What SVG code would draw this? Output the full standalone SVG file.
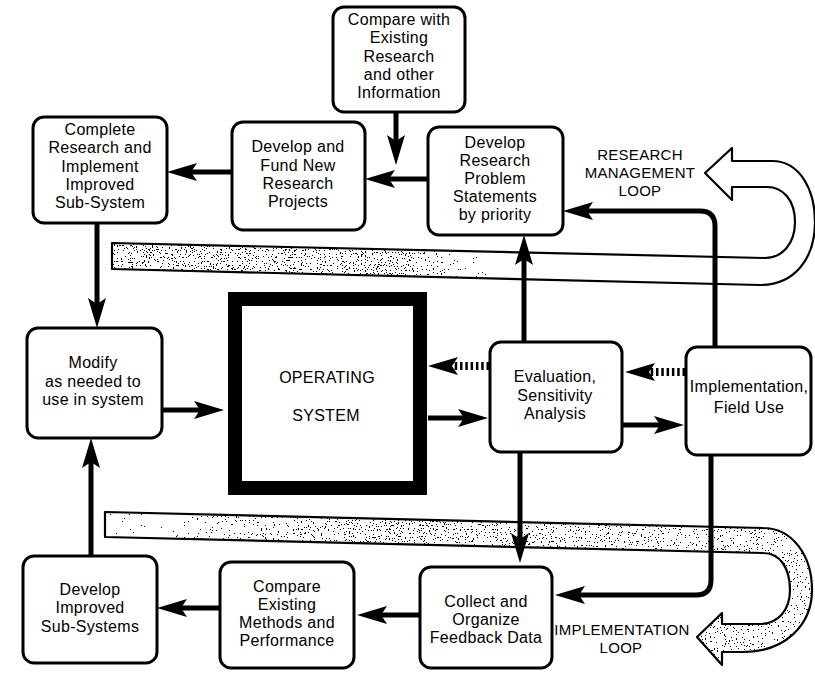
<svg xmlns="http://www.w3.org/2000/svg" width="815" height="673" viewBox="0 0 815 673">
  <style>
    .box{fill:#fff;stroke:#000;stroke-width:3}
    .t{font-family:"Liberation Sans",Arial,sans-serif;font-size:16px;letter-spacing:0.3px;text-anchor:middle;fill:#000}
    .cap{font-size:15px}
    .os{font-size:16px}
    .c{fill:none;stroke:#000;stroke-width:5;marker-end:url(#head)}
    .dash{stroke-width:8;stroke-dasharray:2.5 2.8}
    .band{fill:#fff;stroke:#000;stroke-width:2.2;stroke-linejoin:round}
  </style>
  <defs>
    <marker id="head" markerUnits="userSpaceOnUse" viewBox="0 0 30 18" markerWidth="30" markerHeight="18" refX="8" refY="9" orient="auto">
      <path d="M0,0 L30,9 L0,18 L6,9 Z" fill="#000"/>
    </marker>
    <!-- stipple density for the two loop bands -->
    <linearGradient id="denseTop" gradientUnits="userSpaceOnUse" x1="112" y1="0" x2="815" y2="0">
      <stop offset="0" stop-color="#000" stop-opacity="1"/>
      <stop offset="0.42" stop-color="#000" stop-opacity="1"/>
      <stop offset="0.6" stop-color="#000" stop-opacity="0.8"/>
      <stop offset="1" stop-color="#000" stop-opacity="0.7"/>
    </linearGradient>
    <linearGradient id="denseBottom" gradientUnits="userSpaceOnUse" x1="105" y1="0" x2="815" y2="0">
      <stop offset="0" stop-color="#000" stop-opacity="0.88"/>
      <stop offset="0.35" stop-color="#000" stop-opacity="1"/>
      <stop offset="1" stop-color="#000" stop-opacity="0.96"/>
    </linearGradient>
    <filter id="grain" x="0" y="0" width="100%" height="100%" color-interpolation-filters="sRGB">
      <feTurbulence type="fractalNoise" baseFrequency="0.75" numOctaves="2" seed="7" result="noise"/>
      <feColorMatrix in="noise" type="matrix" values="0 0 0 0 0  0 0 0 0 0  0 0 0 0 0  1 0 0 0 0" result="na"/>
      <feComposite in="na" in2="SourceGraphic" operator="arithmetic" k1="0" k2="1" k3="1" k4="-1" result="sum"/>
      <feComponentTransfer in="sum">
        <feFuncA type="discrete" tableValues="0 0 0 0 0 0 0 0 0 0 0 0 0 1 1 1 1 1 1 1"/>
      </feComponentTransfer>
    </filter>
  </defs>

  <!-- loop bands -->
  <g id="research-loop">
    <path class="band" d="M112 243 L765 258 C782 258 795 244 795 222 C795 200 783 187 767 187 L732 187 L732 200 L705 173 L732 148 L732 161 L772 161 C800 161 815 190 815 222 C815 258 795 285 760 285 L112 269 Z"/>
    <path d="M112 243 L765 258 C782 258 795 244 795 222 C795 200 783 187 767 187 L732 187 L732 200 L705 173 L732 148 L732 161 L772 161 C800 161 815 190 815 222 C815 258 795 285 760 285 L112 269 Z" fill="url(#denseTop)" filter="url(#grain)"/>
    <text class="t cap" x="640" y="160">RESEARCH</text>
    <text class="t cap" x="640" y="178">MANAGEMENT</text>
    <text class="t cap" x="640" y="196">LOOP</text>
  </g>
  <g id="implementation-loop">
    <path class="band" d="M105 512 L763 528 C792 528 812 555 812 590 C812 625 785 652 743 652 L722 652 L722 665 L697 637 L722 613 L722 624 L760 624 C778 624 790 610 790 590 C790 568 780 553 763 553 L105 537 Z"/>
    <path d="M105 512 L763 528 C792 528 812 555 812 590 C812 625 785 652 743 652 L722 652 L722 665 L697 637 L722 613 L722 624 L760 624 C778 624 790 610 790 590 C790 568 780 553 763 553 L105 537 Z" fill="url(#denseBottom)" filter="url(#grain)"/>
    <text class="t cap" x="622" y="635">IMPLEMENTATION</text>
    <text class="t cap" x="621" y="653">LOOP</text>
  </g>

  <!-- process boxes -->
  <g id="compare-research">
    <rect class="box" x="333" y="7" width="132" height="105" rx="11"/>
    <text class="t" x="399" y="25">Compare with</text>
    <text class="t" x="399" y="43">Existing</text>
    <text class="t" x="399" y="62">Research</text>
    <text class="t" x="399" y="80">and other</text>
    <text class="t" x="399" y="98">Information</text>
  </g>
  <g id="complete-research">
    <rect class="box" x="33" y="117" width="134" height="106" rx="11"/>
    <text class="t" x="100" y="135">Complete</text>
    <text class="t" x="100" y="153">Research and</text>
    <text class="t" x="100" y="172">Implement</text>
    <text class="t" x="100" y="190">Improved</text>
    <text class="t" x="100" y="208">Sub-System</text>
  </g>
  <g id="fund-projects">
    <rect class="box" x="232" y="122" width="133" height="108" rx="11"/>
    <text class="t" x="298" y="152">Develop and</text>
    <text class="t" x="298" y="171">Fund New</text>
    <text class="t" x="298" y="189">Research</text>
    <text class="t" x="298" y="207">Projects</text>
  </g>
  <g id="problem-statements">
    <rect class="box" x="428" y="127" width="135" height="108" rx="11"/>
    <text class="t" x="495" y="148">Develop</text>
    <text class="t" x="495" y="166">Research</text>
    <text class="t" x="495" y="184">Problem</text>
    <text class="t" x="495" y="202">Statements</text>
    <text class="t" x="495" y="220">by priority</text>
  </g>
  <g id="modify">
    <rect class="box" x="27" y="328" width="135" height="110" rx="11"/>
    <text class="t" x="93" y="368">Modify</text>
    <text class="t" x="93" y="387">as needed to</text>
    <text class="t" x="93" y="405">use in system</text>
  </g>
  <g id="operating-system">
    <rect x="235" y="299" width="185" height="189" fill="#fff" stroke="#000" stroke-width="14"/>
    <text class="t os" x="327" y="383">OPERATING</text>
    <text class="t os" x="326" y="421">SYSTEM</text>
  </g>
  <g id="evaluation">
    <rect class="box" x="490" y="342" width="132" height="110" rx="11"/>
    <text class="t" x="555" y="382">Evaluation,</text>
    <text class="t" x="555" y="401">Sensitivity</text>
    <text class="t" x="555" y="419">Analysis</text>
  </g>
  <g id="implementation">
    <rect class="box" x="686" y="347" width="125" height="108" rx="11"/>
    <text class="t" x="749" y="392">Implementation,</text>
    <text class="t" x="749" y="413">Field Use</text>
  </g>
  <g id="collect-feedback">
    <rect class="box" x="420" y="567" width="132" height="101" rx="11"/>
    <text class="t" x="486" y="607">Collect and</text>
    <text class="t" x="486" y="625">Organize</text>
    <text class="t" x="486" y="643">Feedback Data</text>
  </g>
  <g id="compare-methods">
    <rect class="box" x="220" y="562" width="134" height="106" rx="11"/>
    <text class="t" x="287" y="592">Compare</text>
    <text class="t" x="287" y="610">Existing</text>
    <text class="t" x="287" y="628">Methods and</text>
    <text class="t" x="287" y="646">Performance</text>
  </g>
  <g id="develop-improved">
    <rect class="box" x="23" y="556" width="134" height="107" rx="11"/>
    <text class="t" x="90" y="595">Develop</text>
    <text class="t" x="90" y="613">Improved</text>
    <text class="t" x="90" y="632">Sub-Systems</text>
  </g>

  <!-- connectors -->
  <g id="connectors">
    <path class="c" d="M396 112 V143"/>
    <path class="c" d="M428 179 H387"/>
    <path class="c" d="M232 172 H189"/>
    <path class="c" d="M97 223 V306"/>
    <path class="c" d="M91 557 V460"/>
    <path class="c" d="M162 410 H202"/>
    <path class="c dash" d="M489 366 H450"/>
    <path class="c" d="M428 418 H466"/>
    <path class="c dash" d="M685 372 H647"/>
    <path class="c" d="M622 425 H662"/>
    <path class="c" d="M524 342 V257"/>
    <path class="c" d="M715 347 V226 Q715 211 700 211 H585"/>
    <path class="c" d="M520 452 V541"/>
    <path class="c" d="M711 455 V580 Q711 595 696 595 H577"/>
    <path class="c" d="M420 615 H379"/>
    <path class="c" d="M220 608 H179"/>
  </g>
</svg>
